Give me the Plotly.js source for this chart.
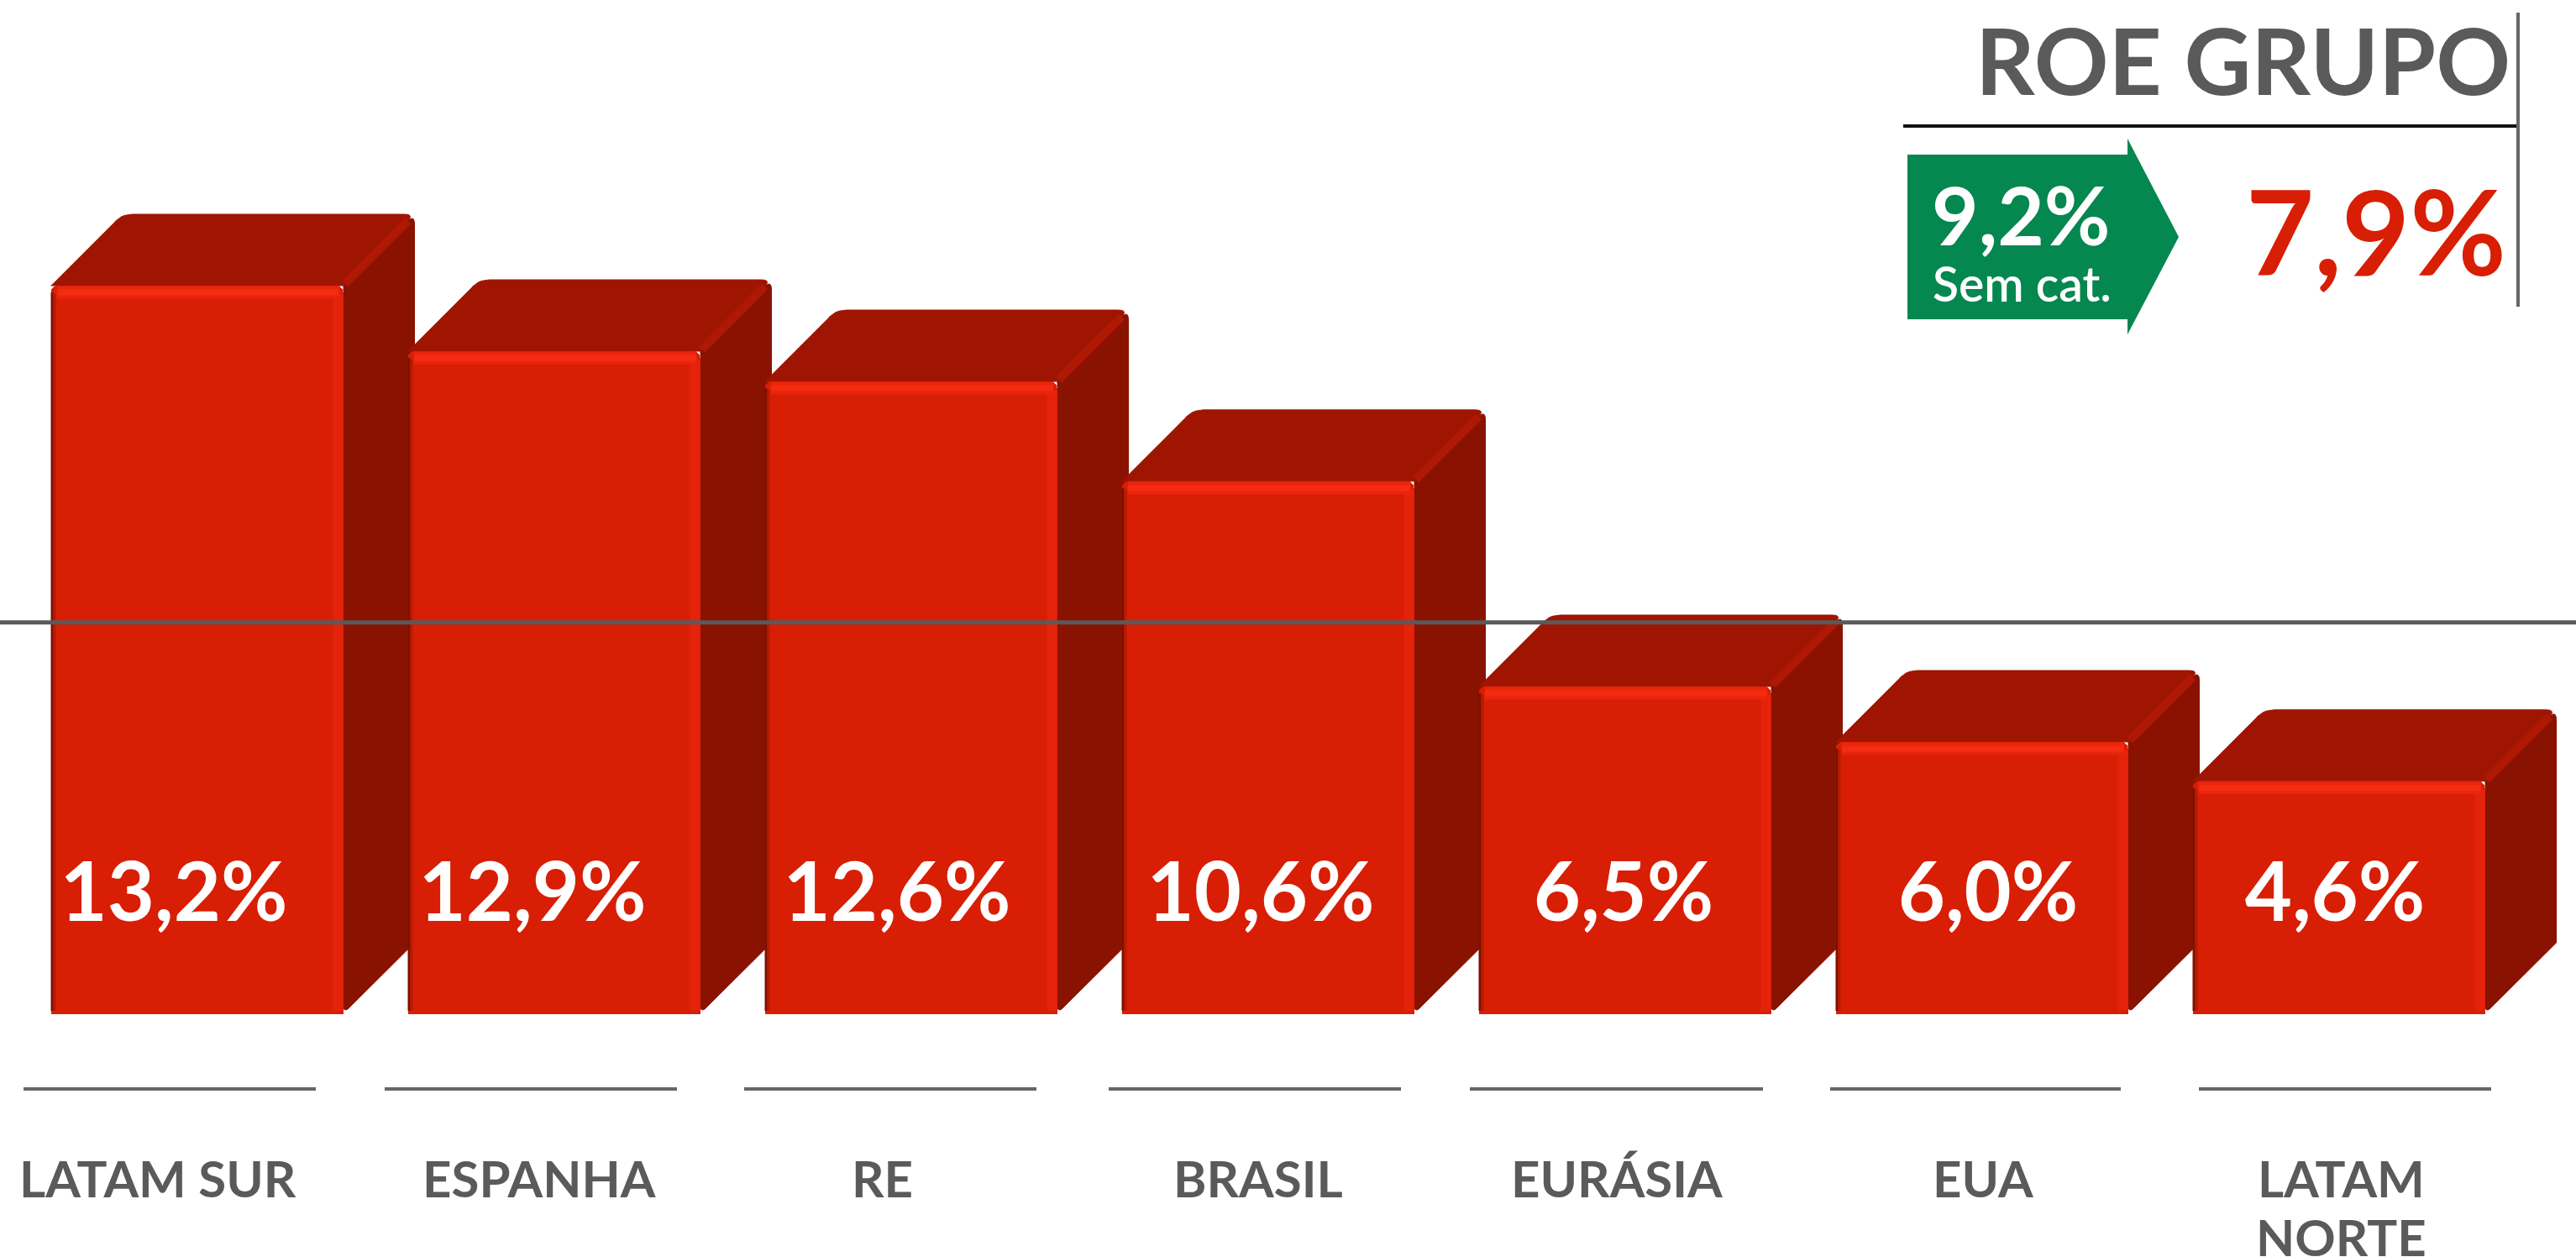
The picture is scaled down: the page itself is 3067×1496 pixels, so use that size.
<!DOCTYPE html>
<html>
<head>
<meta charset="utf-8">
<script src="https://cdn.plot.ly/plotly-3.0.1.min.js"></script>
<style>html,body{margin:0;padding:0;background:#fff}#chart{width:3067px;height:1496px}</style>
</head>
<body>
<div id="chart"></div>
<script>
// ---- data ----
const categories = ["LATAM SUR", "ESPANHA", "RE", "BRASIL", "EURÁSIA", "EUA", "LATAM<br>NORTE"];
const valueLabels = ["13,2%", "12,9%", "12,6%", "10,6%", "6,5%", "6,0%", "4,6%"];
// height of each drawn column, as the picture draws it (axis units)
const drawnHeights = [14.45, 13.15, 12.55, 10.57, 6.5, 5.4, 4.62];
const groupLevel = 7.77;
const groupTitle = "ROE GRUPO";
const groupValue = "7,9%";
const exCatValue = "9,2%";
const exCatLabel = "Sem cat.";

// ---- layout constants ----
const W = 3067, H = 1496;
const stepPx = 425, firstCenterPx = 234.5, zeroPx = 1207, unitPx = 60;
const frontPx = 348, depthPx = 85;
const valueLabelCenterPx = [207, 634, 1068, 1501, 1933, 2367, 2780];
const valueLabelYPx = 1072;
const catCenterPx = [188, 642, 1050, 1498, 1925, 2361, 2787];
const catFirstLineYPx = 1402, catLinePitchPx = 70;
const ruleSpansPx = [[28, 376], [458, 806], [886, 1234], [1320, 1668], [1750, 2099], [2179, 2525], [2618, 2966]];
const ruleYPx = 1296;

const RED = "#D81E05", TOP = "#A01502", SIDE = "#8A1200", GLOW = "#F52C12", GLOW1 = "#E9250B", GLOW2 = "#E4230A", DARK = "#7E1000", RIDGE = "#AE1804";
const GREY = "#5A5A5A", RULE = "#666666", GREEN = "#058750";
const FONT = "Lato";

const xRange = [(0 - firstCenterPx) / stepPx, (W - firstCenterPx) / stepPx];
const yRange = [(zeroPx - H) / unitPx, zeroPx / unitPx];
const dxU = px => px / stepPx, dyU = px => px / unitPx;
const xData = px => (px - firstCenterPx) / stepPx;
const yData = px => (zeroPx - px) / unitPx;
const xp = px => px / W, yp = px => 1 - px / H;

const idx = categories.map((_, i) => i);
const halfW = dxU(frontPx / 2), dX = dxU(depthPx), dY = dyU(depthPx);
const traces = [];

// polygon in axis units -> same polygon with the listed corners rounded by rPx
function rounded(xs, ys, corners, rPx) {
  const n = xs.length, outX = [], outY = [];
  for (let i = 0; i < n; i++) {
    if (!corners.includes(i)) { outX.push(xs[i]); outY.push(ys[i]); continue; }
    const p = (i + n - 1) % n, q = (i + 1) % n;
    const toward = (j) => {
      const ax = (xs[j] - xs[i]) * stepPx, ay = (ys[j] - ys[i]) * unitPx, len = Math.hypot(ax, ay);
      return [xs[i] + (ax / len * rPx) / stepPx, ys[i] + (ay / len * rPx) / unitPx];
    };
    const a = toward(p), b = toward(q);
    for (let t = 0; t <= 1.0001; t += 0.2) {
      outX.push((1 - t) * (1 - t) * a[0] + 2 * t * (1 - t) * xs[i] + t * t * b[0]);
      outY.push((1 - t) * (1 - t) * a[1] + 2 * t * (1 - t) * ys[i] + t * t * b[1]);
    }
  }
  return {x: outX, y: outY};
}
const face = (poly, color) => Object.assign({type: "scatter", mode: "lines", hoverinfo: "skip", showlegend: false,
  fill: "toself", fillcolor: color, line: {color, width: 1}}, poly);

// side and top faces, painted left to right so each column overlaps the previous one
idx.forEach(i => {
  const h = drawnHeights[i], l = i - halfW, r = i + halfW;
  traces.push(face(rounded([r, r + dX, r + dX, r], [h, h + dY, dY, 0], [1, 3], 12), SIDE));
  traces.push(face(rounded([l, r, r + dX, l + dX], [h, h, h + dY, h + dY], [2, 3], 12), TOP));
  traces.push({type: "scatter", mode: "lines", hoverinfo: "skip", showlegend: false,
    line: {color: RIDGE, width: 10},
    x: [r + dxU(2), r + dX - dxU(8)], y: [h + dyU(2), h + dY - dyU(8)]});
});

// front faces: the bars themselves, on an overlaying pair of axes
traces.push({type: "bar", xaxis: "x2", yaxis: "y2", x: idx, y: drawnHeights, width: frontPx / stepPx,
  hoverinfo: "skip", showlegend: false, marker: {color: RED, line: {width: 0}, cornerradius: 8}});

// bevel highlights on the front faces
const seg = f => {
  const xs = [], ys = [];
  idx.forEach(i => { const s = f(i); xs.push(s[0], s[2], null); ys.push(s[1], s[3], null); });
  return {x: xs, y: ys};
};
const bevel = (f, color, width) => traces.push(Object.assign({type: "scatter", mode: "lines", xaxis: "x2", yaxis: "y2",
  hoverinfo: "skip", showlegend: false, line: {color, width}}, seg(f)));
bevel(i => [i - halfW + dxU(1.5), dyU(4), i - halfW + dxU(1.5), drawnHeights[i] - dyU(8)], DARK, 3);
bevel(i => [i - halfW + dxU(4.5), dyU(4), i - halfW + dxU(4.5), drawnHeights[i] - dyU(10)], "#B51B03", 3);
bevel(i => [i + halfW - dxU(6), dyU(4), i + halfW - dxU(6), drawnHeights[i] - dyU(10)], GLOW2, 12);
bevel(i => [i - halfW + dxU(7), drawnHeights[i] - dyU(8), i + halfW - dxU(4), drawnHeights[i] - dyU(8)], GLOW1, 15);
bevel(i => [i - halfW + dxU(8), drawnHeights[i] - dyU(8), i + halfW - dxU(5), drawnHeights[i] - dyU(8)], GLOW, 7);

// group reference line
traces.push({type: "scatter", mode: "lines", xaxis: "x2", yaxis: "y2", hoverinfo: "skip", showlegend: false,
  x: [xRange[0], xRange[1]], y: [groupLevel, groupLevel], line: {color: GREY, width: 5}});

// value labels
traces.push({type: "scatter", mode: "text", xaxis: "x2", yaxis: "y2", hoverinfo: "skip", showlegend: false,
  x: valueLabelCenterPx.map(xData), y: idx.map(() => yData(valueLabelYPx)), text: valueLabels, textposition: "middle center",
  textfont: {family: FONT, size: 97, color: "#FFFFFF", weight: 700}, cliponaxis: false});

// category labels, separators and the group panel
const annotations = [];
const note = (text, xPx, yPx, size, color, anchor, weight) => annotations.push({text, xref: "paper", yref: "paper",
  x: xp(xPx), y: yp(yPx), xanchor: anchor || "center", yanchor: "middle", showarrow: false,
  font: {family: FONT, size, color, weight: weight || 700}});
categories.forEach((c, i) => c.split("<br>").forEach((line, k) =>
  note(line, catCenterPx[i], catFirstLineYPx + k * catLinePitchPx, 60, GREY)));
note(groupTitle, 2670, 70, 110, GREY);
note(groupValue, 2829, 274, 140, RED);
note(exCatValue, 2406, 254, 96, "#FFFFFF");
note(exCatLabel, 2407, 337, 57, "#FFFFFF", "center", 600);

const hline = (x0, x1, y, color, width) => ({type: "line", xref: "paper", yref: "paper",
  x0: xp(x0), x1: xp(x1), y0: yp(y), y1: yp(y), line: {color, width}});
const shapes = ruleSpansPx.map(s => hline(s[0], s[1], ruleYPx, RULE, 4));
shapes.push(hline(2266, 2998, 150, "#111111", 4));
shapes.push({type: "line", xref: "paper", yref: "paper", x0: xp(2998), x1: xp(2998), y0: yp(15), y1: yp(365),
  line: {color: RULE, width: 4}});
const arrow = [[2271, 184], [2533, 184], [2533, 165], [2594, 282], [2533, 398], [2533, 380], [2271, 380]];
shapes.push({type: "path", xref: "paper", yref: "paper", fillcolor: GREEN, line: {width: 0},
  path: arrow.map((p, i) => (i ? "L" : "M") + xp(p[0]) + " " + yp(p[1])).join(" ") + " Z", layer: "below"});

const hidden = r => ({range: r, autorange: false, visible: false, showgrid: false, zeroline: false, fixedrange: true});
const layout = {
  width: W, height: H, autosize: false,
  margin: {l: 0, r: 0, t: 0, b: 0, pad: 0},
  paper_bgcolor: "#FFFFFF", plot_bgcolor: "rgba(0,0,0,0)",
  showlegend: false, bargap: 0,
  xaxis: hidden(xRange), yaxis: hidden(yRange),
  xaxis2: Object.assign(hidden(xRange), {overlaying: "x"}),
  yaxis2: Object.assign(hidden(yRange), {overlaying: "y"}),
  annotations, shapes
};
Plotly.newPlot("chart", traces, layout, {displayModeBar: false, staticPlot: true});
</script>
</body>
</html>
